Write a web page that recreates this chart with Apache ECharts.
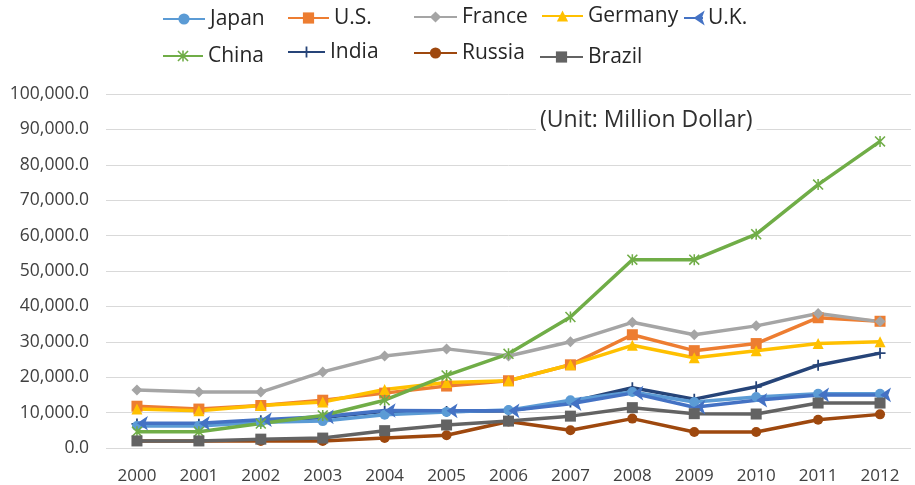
<!DOCTYPE html>
<html><head><meta charset="utf-8">
<script src="https://cdn.jsdelivr.net/npm/echarts@6/dist/echarts.min.js"></script>
<style>html,body{margin:0;padding:0;background:#fff}#c{width:915px;height:485px}</style>
</head><body><div id="c"></div>
<script>
var years = ['2000','2001','2002','2003','2004','2005','2006','2007','2008','2009','2010','2011','2012'];
var yTicks = [0,10000,20000,30000,40000,50000,60000,70000,80000,90000,100000];
var seriesNames = ['Japan','U.S.','France','Germany','U.K.','China','India','Russia','Brazil'];
var japan   = [6200, 6200, 7300, 7600, 9400, 10200, 10700, 13500, 15800, 13000, 14400, 15300, 15300];
var us      = [11800, 11000, 12000, 13500, 15500, 17500, 19000, 23500, 32000, 27500, 29500, 36800, 35800];
var france  = [16400, 15800, 15800, 21500, 26000, 28000, 26000, 30000, 35500, 32000, 34500, 38000, 35700];
var germany = [11000, 10500, 12000, 13000, 16500, 18500, 19000, 23500, 29000, 25500, 27500, 29500, 30000];
var uk      = [7000, 7000, 8000, 8800, 10600, 10500, 10500, 12500, 15500, 11500, 13500, 15000, 15000];
var china   = [4600, 4600, 6900, 9200, 13500, 20500, 26600, 37000, 53200, 53200, 60400, 74400, 86600];
var india   = [6800, 6700, 7700, 8600, 10400, 10300, 10500, 13000, 17000, 13800, 17300, 23400, 26800];
var russia  = [2000, 2000, 2000, 2000, 2800, 3600, 7500, 5000, 8300, 4500, 4500, 8000, 9500];
var brazil  = [2000, 2000, 2500, 2800, 4900, 6500, 7600, 9000, 11400, 9700, 9600, 12700, 12700];
var unitText = '(Unit: Million Dollar)';

var values = [japan, us, france, germany, uk, china, india, russia, brazil];
var colors = ['#5B9BD5','#ED7D31','#A5A5A5','#FFC000','#4472C4','#70AD47','#264478','#9E480E','#636363'];
var xPath = 'path://M0,1L1,0L5,4L9,0L10,1L6,5L10,9L9,10L5,6L1,10L0,9L4,5ZM4.3,0H5.7V10H4.3Z';
var plusPath = 'path://M4.2,0H5.8V4.2H10V5.8H5.8V10H4.2V5.8H0V4.2H4.2Z';
var symbols = ['circle','rect','diamond','triangle','arrow',xPath,plusPath,'circle','rect'];
var symRot = [0,0,0,0,90,0,0,0,0];
var symSize = [10,11,11,11,11,11,11,10,11];
var zOrder = [2,2,2,2,2,2,1,2,2];

// legend layout: [left, centerY, itemWidth]
var legendPos = [[162,19,42],[287,18,41],[413,17,43],[541,16,41],[683,18,19],[162,56,40],[287,52,37],[413,53,43],[539,57,43]];

var legends = seriesNames.map(function(n,i){
  var p = legendPos[i];
  return {data:[n], left:p[0], top:p[1]-12, padding:0, itemWidth:p[2], itemHeight:14, itemGap:0,
    textStyle:{fontFamily:'Open Sans', fontSize:21, color:'#262626', lineHeight:24}};
});

var series = seriesNames.map(function(n,i){
  return {name:n, type:'line', data:values[i], symbol:symbols[i], symbolRotate:symRot[i], symbolSize:symSize[i],
    showSymbol:true, showAllSymbol:true, z:zOrder[i],
    lineStyle:{color:colors[i], width:3.5}, itemStyle:{color:colors[i], borderWidth:0},
    emphasis:{disabled:true}, animation:false};
});

function fmt(v){ return String(v).replace(/\B(?=(\d{3})+(?!\d))/g, ',') + '.0'; }

var chart = echarts.init(document.getElementById('c'), null, {renderer:'canvas'});
chart.setOption({
  animation:false,
  backgroundColor:'#fff',
  title:{text:unitText, left:536, top:104, padding:[3,4], backgroundColor:'#fff',
    textStyle:{fontFamily:'Open Sans', fontSize:23, fontWeight:'normal', color:'#303030', lineHeight:26}},
  legend:legends,
  grid:{left:106, right:4, top:94, bottom:35, containLabel:false},
  xAxis:{type:'category', data:years, boundaryGap:true,
    axisLine:{show:false}, axisTick:{show:false},
    axisLabel:{fontFamily:'Open Sans', fontSize:17, color:'#404040', margin:20}},
  yAxis:{type:'value', min:yTicks[0], max:yTicks[yTicks.length-1], interval:yTicks[1]-yTicks[0],
    axisLine:{show:false}, axisTick:{show:false},
    splitLine:{lineStyle:{color:'#d9d9d9', width:1}},
    axisLabel:{fontFamily:'Open Sans', fontSize:17.5, color:'#404040', margin:17, formatter:fmt}},
  series:series
});
</script></body></html>
